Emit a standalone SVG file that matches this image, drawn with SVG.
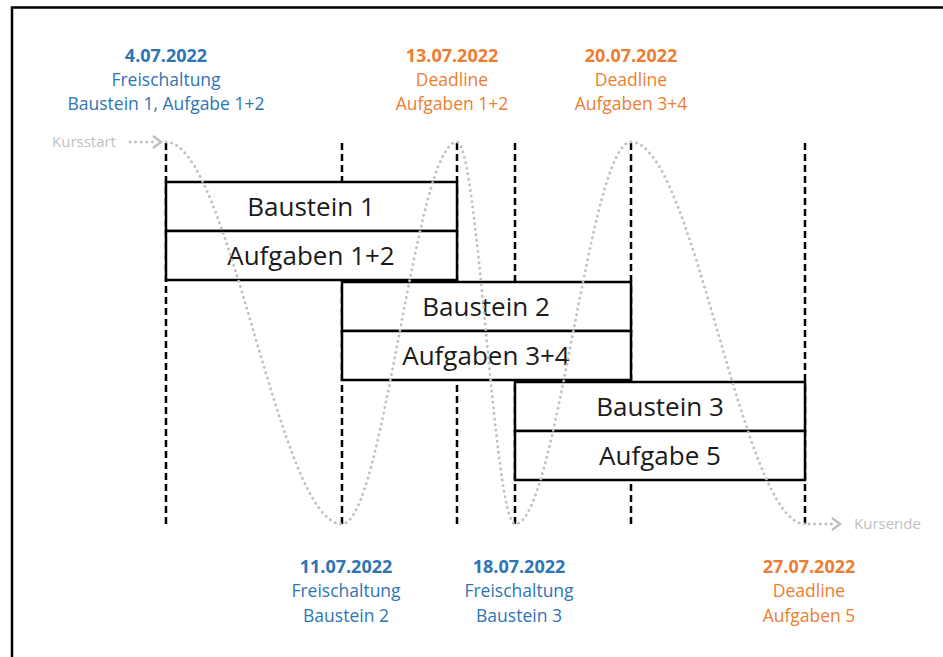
<svg xmlns="http://www.w3.org/2000/svg" width="943" height="657" viewBox="0 0 943 657">
<defs>
<style>
.vl{stroke:#000;stroke-width:2.5;stroke-dasharray:7 4;fill:none}
.box{fill:#fff;stroke:#000;stroke-width:2.5}
.bt{font-family:"Open Sans","Noto Sans",sans-serif;font-size:26px;fill:#1a1a1a;text-anchor:middle}
.dot{fill:none;stroke:#bfbfbf;stroke-width:2.8;stroke-linecap:round;stroke-dasharray:0.1 5.5}
.chev{fill:none;stroke:#bfbfbf;stroke-width:2.5;stroke-linejoin:miter}
.gl{font-family:"Open Sans","Noto Sans",sans-serif;font-size:15px;fill:#bfbfbf}
.lb{font-family:"Open Sans","Noto Sans",sans-serif;font-size:17.5px;text-anchor:middle}
.d{font-weight:bold;font-size:18px}
.blue{fill:#2e75b6}
.orange{fill:#ed7d31}
</style>
</defs>
<rect width="943" height="657" fill="#fff"/>
<path d="M12,660 L12,7.5 L945,7.5" fill="none" stroke="#000" stroke-width="2.5"/>
<g id="connectors">
<line class="vl" x1="166" y1="143" x2="166" y2="527"/>
<line class="vl" x1="342" y1="143" x2="342" y2="527"/>
<line class="vl" x1="457" y1="143" x2="457" y2="527"/>
<line class="vl" x1="515" y1="143" x2="515" y2="527"/>
<line class="vl" x1="631" y1="143" x2="631" y2="527"/>
<line class="vl" x1="805" y1="143" x2="805" y2="527"/>
</g>
<g id="baustein1">
<rect class="box" x="166" y="182" width="291" height="49"/>
<rect class="box" x="166" y="231" width="291" height="49"/>
<text class="bt" x="311" y="216">Baustein 1</text>
<text class="bt" x="311" y="265">Aufgaben 1+2</text>
</g>
<g id="baustein2">
<rect class="box" x="342" y="282" width="289" height="49"/>
<rect class="box" x="342" y="331" width="289" height="49"/>
<text class="bt" x="486" y="316">Baustein 2</text>
<text class="bt" x="486" y="365">Aufgaben 3+4</text>
</g>
<g id="baustein3">
<rect class="box" x="515" y="382" width="290" height="49"/>
<rect class="box" x="515" y="431" width="290" height="49"/>
<text class="bt" x="660" y="416">Baustein 3</text>
<text class="bt" x="660" y="465">Aufgabe 5</text>
</g>
<g id="wave">
<path class="dot" d="M166,142 C230,142 278,524 342,524 C384,524 415,142 457,142 C478,142 494,524 515,524 C557,524 589,142 631,142 C694,142 742,524 805,524"/>
</g>
<g id="kursstart">
<path class="dot" d="M130,142 L156,142"/>
<path class="chev" d="M153,136 L161,142 L153,148"/>
<text class="gl" x="52" y="147">Kursstart</text>
</g>
<g id="kursende">
<path class="dot" d="M809,524 L833,524"/>
<path class="chev" d="M832,518 L840,524 L832,530"/>
<text class="gl" x="854" y="529">Kursende</text>
</g>
<g id="label-0407">
<text class="lb blue d" x="166" y="62">4.07.2022</text>
<text class="lb blue" x="166" y="86">Freischaltung</text>
<text class="lb blue" x="166" y="110">Baustein 1, Aufgabe 1+2</text>
</g>
<g id="label-1307">
<text class="lb orange d" x="452" y="62">13.07.2022</text>
<text class="lb orange" x="452" y="86">Deadline</text>
<text class="lb orange" x="452" y="110">Aufgaben 1+2</text>
</g>
<g id="label-2007">
<text class="lb orange d" x="631" y="62">20.07.2022</text>
<text class="lb orange" x="631" y="86">Deadline</text>
<text class="lb orange" x="631" y="110">Aufgaben 3+4</text>
</g>
<g id="label-1107">
<text class="lb blue d" x="346" y="573">11.07.2022</text>
<text class="lb blue" x="346" y="597">Freischaltung</text>
<text class="lb blue" x="346" y="622">Baustein 2</text>
</g>
<g id="label-1807">
<text class="lb blue d" x="519" y="573">18.07.2022</text>
<text class="lb blue" x="519" y="597">Freischaltung</text>
<text class="lb blue" x="519" y="622">Baustein 3</text>
</g>
<g id="label-2707">
<text class="lb orange d" x="809" y="573">27.07.2022</text>
<text class="lb orange" x="809" y="597">Deadline</text>
<text class="lb orange" x="809" y="622">Aufgaben 5</text>
</g>
</svg>
